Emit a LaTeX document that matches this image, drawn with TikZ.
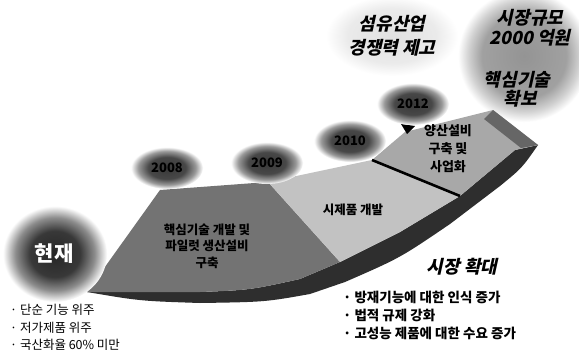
\documentclass[tikz,border=0pt]{standalone}
\usepackage{fontspec}
\setmainfont{Noto Sans CJK KR}
\newfontfamily\krsl[FakeSlant=0.22]{Noto Sans CJK KR}
\pgfdeclareradialshading{yearblob}{\pgfpoint{0bp}{0bp}}{color(0bp)=(black!78); color(13bp)=(black!72); color(20bp)=(black!40); color(25bp)=(white); color(50bp)=(white)}
\pgfdeclareradialshading{nowblob}{\pgfpoint{0bp}{0bp}}{color(0bp)=(black!85); color(12bp)=(black!78); color(19bp)=(black!45); color(25bp)=(white); color(50bp)=(white)}
\pgfdeclareradialshading{softblob}{\pgfpoint{0bp}{0bp}}{color(0bp)=(black!42); color(16bp)=(black!37); color(21bp)=(black!18); color(25bp)=(white); color(50bp)=(white)}
\pgfdeclareradialshading{haloblob}{\pgfpoint{0bp}{0bp}}{color(0bp)=(black!12); color(17bp)=(black!8); color(25bp)=(white); color(50bp)=(white)}
\tikzset{
  yr/.style={font=\fontsize{13}{13}\selectfont\bfseries, text=black, inner sep=0pt},
  seglbl/.style={font=\fontsize{12.5}{16.5}\selectfont\bfseries, align=center, inner sep=0pt},
  ttl/.style={font=\krsl\fontsize{18}{18}\selectfont\bfseries, inner sep=0pt},
  bul/.style={font=\fontsize{12.5}{13}\selectfont, anchor=west, inner sep=0pt},
  bulb/.style={font=\fontsize{13.5}{14}\selectfont\bfseries, anchor=west, inner sep=0pt},
}
\begin{document}
\begin{tikzpicture}[x=1pt,y=-1pt]
\useasboundingbox (0,0) rectangle (579,356);
\fill[white] (0,0) rectangle (579,356);

% background halos
\shade[shading=haloblob] (392,36) ellipse (66 and 40);
\shade[shading=softblob] (524,56) ellipse (66 and 66);

% ribbon: dark front band
\fill[black!82] (87,292) .. controls (140,301) .. (200,303)
  .. controls (265,302) .. (310,294) -- (345,282)
  .. controls (400,258) .. (450,224) -- (500,186)
  .. controls (522,168) .. (538,145) -- (515,150) -- (460,196)
  -- (400,232) -- (340,262) -- (300,279)
  .. controls (250,290) .. (200,292) -- cycle;
% segment 1
\fill[black!55] (87,292) -- (160,190) -- (268,182) -- (340,262) -- (300,279)
  .. controls (250,290) .. (200,292) -- cycle;
% segment 2
\fill[black!24] (268,182) -- (372,160) -- (460,196) -- (400,232) -- (340,262) -- cycle;
% segment 3
\fill[black!34] (372,160) -- (405,132) -- (493,110) -- (538,145) -- (515,150) -- (460,196) -- cycle;
\fill[black!60] (493,110) -- (538,145) -- (521,148) -- (484,119) -- cycle;
\draw[line width=2.6pt, black] (372,160) -- (460,196);
\fill[black] (401,124) -- (415,126) -- (407,134) -- cycle;

% year bubbles
\shade[shading=yearblob] (167,168) ellipse (36 and 21);
\shade[shading=yearblob] (267,163) ellipse (36 and 21);
\shade[shading=yearblob] (350,141) ellipse (36 and 21);
\shade[shading=yearblob] (413,104) ellipse (36 and 21);
\node[yr] (y1) at (167,168) {2008};
\node[yr] (y2) at (267,163) {2009};
\node[yr] (y3) at (350,141) {2010};
\node[yr] (y4) at (413,104) {2012};

% now
\shade[shading=nowblob] (55,254) ellipse (52 and 48);
\node[font=\fontsize{21}{21}\selectfont\bfseries, text=white, inner sep=0pt] (now) at (54,254) {현재};

% segment labels
\node[seglbl] (s1) at (207,246) {핵심기술 개발 및\\파일럿 생산설비\\구축};
\node[seglbl] (s2) at (353,210) {시제품 개발};
\node[seglbl, font=\fontsize{13}{18}\selectfont\bfseries] (s3) at (448,149) {양산설비\\구축 및\\사업화};

% titles
\node[ttl] (t1) at (392,24) {섬유산업};
\node[ttl] (t2) at (392,48) {경쟁력 제고};
\node[ttl] (t3) at (530,18) {시장규모};
\node[ttl] (t4) at (530,38) {2000 억원};
\node[ttl] (t5) at (517,80) {핵심기술};
\node[ttl] (t6) at (520,99) {확보};
\node[ttl] (t7) at (462,267) {시장 확대};

% bullets
\node[bul] (l1) at (10,310) {· 단순 기능 위주};
\node[bul] (l2) at (10,328) {· 저가제품 위주};
\node[bul] (l3) at (10,345) {· 국산화율 60\% 미만};
\node[bulb] (r1) at (343,297) {· 방재기능에 대한 인식 증가};
\node[bulb] (r2) at (343,315) {· 법적 규제 강화};
\node[bulb] (r3) at (343,333) {· 고성능 제품에 대한 수요 증가};
\end{tikzpicture}
\end{document}
